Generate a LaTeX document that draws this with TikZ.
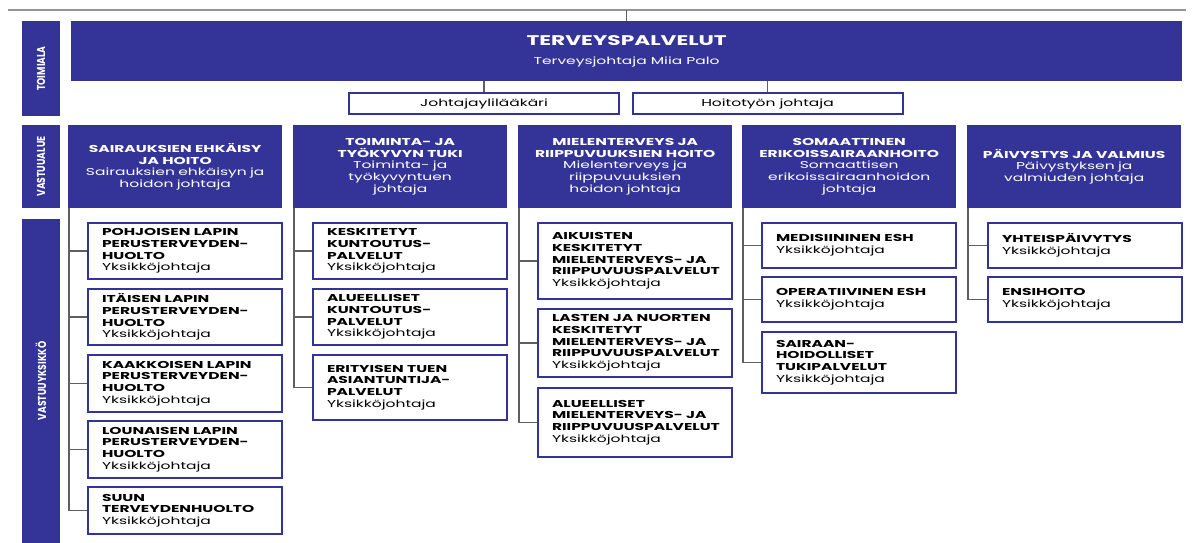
\documentclass[tikz,border=0pt]{standalone}
\usepackage{fontspec}
\setmainfont{Poppins}[FakeStretch=1.55]
\newfontfamily\barfont{Poppins}[FakeStretch=0.8]
\usetikzlibrary{positioning,calc}
\hyphenpenalty=10000
\exhyphenpenalty=10000
\definecolor{navy}{RGB}{52,52,152}
\definecolor{linegray}{RGB}{95,95,95}
\definecolor{topgray}{RGB}{150,150,150}
\tikzset{
  % vertical level bar on the left
  levelbar/.style={rectangle, fill=navy, anchor=north west, minimum width=38pt, inner sep=0pt, outer sep=0pt},
  barlabel/.style={rotate=90, text=white, font=\barfont\fontsize{11.5}{12}\selectfont\bfseries},
  % top level box
  mainbox/.style={rectangle, fill=navy, anchor=north west, minimum width=1111pt, minimum height=60pt,
                  align=center, text=white, inner sep=0pt},
  % director box under the top level
  dirbox/.style={rectangle, draw=navy, line width=2pt, fill=white, minimum width=270pt, minimum height=21pt,
                 inner sep=0pt, font=\fontsize{10}{12}\selectfont},
  % division header
  hdbox/.style={rectangle, fill=navy, anchor=north west, minimum width=214pt, minimum height=83pt,
                text width=208pt, align=center, inner sep=0pt, text=white, font=\fontsize{10}{11.7}\selectfont},
  % unit box
  ubox/.style={rectangle, draw=navy, line width=2pt, fill=white, anchor=north west, text width=166pt,
               inner xsep=14pt, inner ysep=0pt, align=left, font=\fontsize{10}{11.7}\selectfont},
  % connector
  conn/.style={draw=linegray, line width=1.2pt},
}

\begin{document}
\begin{tikzpicture}[x=1pt, y=-1pt]
  \useasboundingbox (0,0) rectangle (1195,543);

  % top level
  \coordinate (tl) at (8,10);
  \coordinate (tr) at (1186,10);
  \draw[topgray, line width=1.5pt] (tl) -- (tr);
  \node[mainbox] (tp) at (71,21) {{\fontsize{14}{16}\selectfont\bfseries TERVEYSPALVELUT}\\[7pt]
    {\fontsize{10}{12}\selectfont Terveysjohtaja Miia Palo}};
  \draw[conn] (tp.north) -- (tp.north |- tl);

  \node[dirbox] (jyl) at (484,103.5) {Johtajaylilääkäri};
  \node[dirbox] (htj) at (767.5,103.5) {Hoitotyön johtaja};
  \draw[conn] (jyl.north) -- (jyl.north |- tp.south);
  \draw[conn] (htj.north) -- (htj.north |- tp.south);

  % level bars
  \node[levelbar, minimum height=95pt] (bar1) at (22,21) {};
  \node[levelbar, minimum height=83pt] (bar2) at (22,125) {};
  \node[levelbar, minimum height=324pt] (bar3) at (22,219) {};
  \node[barlabel] (lab1) at (bar1.center) {TOIMIALA};
  \node[barlabel] (lab2) at (bar2.center) {VASTUUALUE};
  \node[barlabel] (lab3) at (bar3.center) {VASTUUYKSIKKÖ};

  % division headers
  \node[hdbox] (h1) at (68,125) {\textbf{SAIRAUKSIEN EHKÄISY}\\\textbf{JA HOITO}\\Sairauksien ehkäisyn ja\\hoidon johtaja};
  \node[hdbox] (h2) at (293,125) {\textbf{TOIMINTA- JA}\\\textbf{TYÖKYVYN TUKI}\\Toiminta- ja\\työkyvyntuen\\johtaja};
  \node[hdbox] (h3) at (518,125) {\textbf{MIELENTERVEYS JA}\\\textbf{RIIPPUVUUKSIEN HOITO}\\Mielenterveys ja\\riippuvuuksien\\hoidon johtaja};
  \node[hdbox] (h4) at (742,125) {\textbf{SOMAATTINEN}\\\textbf{ERIKOISSAIRAANHOITO}\\Somaattisen\\erikoissairaanhoidon\\johtaja};
  \node[hdbox] (h5) at (967,125) {\textbf{PÄIVYSTYS JA VALMIUS}\\Päivystyksen ja\\valmiuden johtaja};

  % units: sairauksien ehkaisy ja hoito
  \node[ubox, minimum height=56pt] (b11) at (87,222) {\textbf{POHJOISEN LAPIN}\\\textbf{PERUSTERVEYDEN-}\\\textbf{HUOLTO}\\Yksikköjohtaja};
  \node[ubox, minimum height=56pt] (b12) at (87,288) {\textbf{ITÄISEN LAPIN}\\\textbf{PERUSTERVEYDEN-}\\\textbf{HUOLTO}\\Yksikköjohtaja};
  \node[ubox, minimum height=57pt] (b13) at (87,354) {\textbf{KAAKKOISEN LAPIN}\\\textbf{PERUSTERVEYDEN-}\\\textbf{HUOLTO}\\Yksikköjohtaja};
  \node[ubox, minimum height=57pt] (b14) at (87,420) {\textbf{LOUNAISEN LAPIN}\\\textbf{PERUSTERVEYDEN-}\\\textbf{HUOLTO}\\Yksikköjohtaja};
  \node[ubox, minimum height=47pt] (b15) at (87,486) {\textbf{SUUN}\\\textbf{TERVEYDENHUOLTO}\\Yksikköjohtaja};

  % units: toiminta- ja tyokyvyn tuki
  \node[ubox, minimum height=56pt] (b21) at (312,222) {\textbf{KESKITETYT}\\\textbf{KUNTOUTUS-}\\\textbf{PALVELUT}\\Yksikköjohtaja};
  \node[ubox, minimum height=56pt] (b22) at (312,288) {\textbf{ALUEELLISET}\\\textbf{KUNTOUTUS-}\\\textbf{PALVELUT}\\Yksikköjohtaja};
  \node[ubox, minimum height=65pt] (b23) at (312,354) {\textbf{ERITYISEN TUEN}\\\textbf{ASIANTUNTIJA-}\\\textbf{PALVELUT}\\Yksikköjohtaja};

  % units: mielenterveys ja riippuvuuksien hoito
  \node[ubox, minimum height=76pt] (b31) at (537,222) {\textbf{AIKUISTEN}\\\textbf{KESKITETYT}\\\textbf{MIELENTERVEYS- JA}\\\textbf{RIIPPUVUUSPALVELUT}\\Yksikköjohtaja};
  \node[ubox, minimum height=68pt] (b32) at (537,308) {\textbf{LASTEN JA NUORTEN}\\\textbf{KESKITETYT}\\\textbf{MIELENTERVEYS- JA}\\\textbf{RIIPPUVUUSPALVELUT}\\Yksikköjohtaja};
  \node[ubox, minimum height=69pt] (b33) at (537,387) {\textbf{ALUEELLISET}\\\textbf{MIELENTERVEYS- JA}\\\textbf{RIIPPUVUUSPALVELUT}\\Yksikköjohtaja};

  % units: somaattinen erikoissairaanhoito
  \node[ubox, minimum height=45pt] (b41) at (761,222) {\textbf{MEDISIININEN ESH}\\Yksikköjohtaja};
  \node[ubox, minimum height=45pt] (b42) at (761,276) {\textbf{OPERATIIVINEN ESH}\\Yksikköjohtaja};
  \node[ubox, minimum height=61pt] (b43) at (761,331) {\textbf{SAIRAAN-}\\\textbf{HOIDOLLISET}\\\textbf{TUKIPALVELUT}\\Yksikköjohtaja};

  % units: paivystys ja valmius
  \node[ubox, minimum height=45pt] (b51) at (987,222) {\textbf{YHTEISPÄIVYTYS}\\Yksikköjohtaja};
  \node[ubox, minimum height=45pt] (b52) at (987,276) {\textbf{ENSIHOITO}\\Yksikköjohtaja};

  % connectors from headers to units
  \draw[conn] ([xshift=1pt]h1.south west) |- (b11.west) ([xshift=1pt]h1.south west) |- (b12.west)
              ([xshift=1pt]h1.south west) |- (b13.west) ([xshift=1pt]h1.south west) |- (b14.west)
              ([xshift=1pt]h1.south west) |- (b15.west);
  \draw[conn] ([xshift=1pt]h2.south west) |- (b21.west) ([xshift=1pt]h2.south west) |- (b22.west)
              ([xshift=1pt]h2.south west) |- (b23.west);
  \draw[conn] ([xshift=1pt]h3.south west) |- (b31.west) ([xshift=1pt]h3.south west) |- (b32.west)
              ([xshift=1pt]h3.south west) |- (b33.west);
  \draw[conn] ([xshift=1pt]h4.south west) |- (b41.west) ([xshift=1pt]h4.south west) |- (b42.west)
              ([xshift=1pt]h4.south west) |- (b43.west);
  \draw[conn] ([xshift=1pt]h5.south west) |- (b51.west) ([xshift=1pt]h5.south west) |- (b52.west);
\end{tikzpicture}
\end{document}
